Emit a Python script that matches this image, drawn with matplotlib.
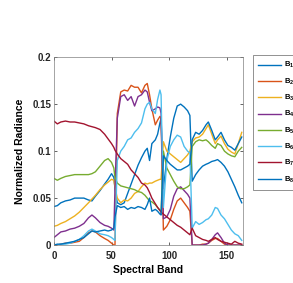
import matplotlib
matplotlib.use("Agg")
import matplotlib.pyplot as plt

plt.rcParams['font.family'] = ['Liberation Sans', 'DejaVu Sans']
plt.rcParams['font.weight'] = 'bold'
plt.rcParams['mathtext.fontset'] = 'custom'
plt.rcParams['mathtext.rm'] = 'Liberation Sans:bold'
plt.rcParams['mathtext.bf'] = 'Liberation Sans:bold'
plt.rcParams['mathtext.it'] = 'Liberation Sans:bold'

bands = [0, 3, 6, 10, 14, 18, 22, 26, 30, 33, 36, 40, 44, 47, 50, 52, 53, 55, 58, 61,
         64, 67, 70, 73, 76, 79, 81, 83, 85, 88, 90, 92, 93, 95, 98, 101, 104, 107, 110, 113,
         116, 118, 120, 123, 126, 129, 132, 134, 137, 140, 142, 145, 148, 151, 154, 157, 160, 163]

b1 = [0.041, 0.042, 0.045, 0.047, 0.048, 0.050, 0.050, 0.050, 0.048, 0.047, 0.052, 0.058, 0.065, 0.070, 0.076, 0.072, 0.060, 0.045, 0.043, 0.045,
      0.055, 0.065, 0.075, 0.085, 0.093, 0.100, 0.103, 0.090, 0.108, 0.112, 0.118, 0.130, 0.135, 0.060, 0.092, 0.115, 0.135, 0.148, 0.150, 0.147,
      0.143, 0.138, 0.068, 0.075, 0.080, 0.084, 0.086, 0.087, 0.089, 0.090, 0.091, 0.088, 0.084, 0.078, 0.070, 0.062, 0.053, 0.045]
b2 = [0.000, 0.000, 0.001, 0.002, 0.002, 0.003, 0.004, 0.008, 0.013, 0.015, 0.014, 0.010, 0.007, 0.005, 0.002, 0.000, 0.000, 0.140, 0.163, 0.165,
      0.164, 0.170, 0.168, 0.168, 0.162, 0.170, 0.172, 0.160, 0.145, 0.128, 0.133, 0.137, 0.135, 0.016, 0.020, 0.027, 0.038, 0.047, 0.050, 0.045,
      0.040, 0.036, 0.000, 0.000, 0.000, 0.001, 0.001, 0.002, 0.005, 0.007, 0.007, 0.004, 0.001, 0.000, 0.000, 0.000, 0.000, 0.000]
b3 = [0.020, 0.021, 0.023, 0.025, 0.028, 0.031, 0.035, 0.040, 0.045, 0.049, 0.053, 0.059, 0.064, 0.067, 0.070, 0.069, 0.062, 0.050, 0.045, 0.048,
      0.047, 0.050, 0.055, 0.057, 0.062, 0.066, 0.065, 0.066, 0.066, 0.068, 0.069, 0.070, 0.070, 0.110, 0.100, 0.097, 0.094, 0.091, 0.088, 0.092,
      0.096, 0.100, 0.110, 0.114, 0.115, 0.118, 0.124, 0.128, 0.118, 0.108, 0.112, 0.116, 0.108, 0.102, 0.099, 0.097, 0.108, 0.120]
b4 = [0.008, 0.011, 0.014, 0.015, 0.017, 0.018, 0.020, 0.023, 0.029, 0.032, 0.029, 0.024, 0.021, 0.020, 0.018, 0.016, 0.060, 0.135, 0.158, 0.160,
      0.154, 0.158, 0.148, 0.158, 0.160, 0.165, 0.163, 0.152, 0.143, 0.145, 0.147, 0.146, 0.140, 0.028, 0.030, 0.038, 0.052, 0.060, 0.062, 0.058,
      0.054, 0.050, 0.000, 0.000, 0.000, 0.000, 0.001, 0.002, 0.006, 0.011, 0.013, 0.008, 0.002, 0.000, 0.000, 0.000, 0.000, 0.000]
b5 = [0.071, 0.069, 0.071, 0.073, 0.074, 0.075, 0.075, 0.075, 0.075, 0.076, 0.078, 0.084, 0.090, 0.092, 0.088, 0.082, 0.072, 0.066, 0.063, 0.062,
      0.061, 0.060, 0.059, 0.057, 0.056, 0.053, 0.050, 0.047, 0.046, 0.043, 0.040, 0.037, 0.035, 0.100, 0.082, 0.075, 0.068, 0.062, 0.060, 0.060,
      0.062, 0.064, 0.105, 0.110, 0.112, 0.111, 0.112, 0.110, 0.106, 0.103, 0.108, 0.106, 0.100, 0.097, 0.095, 0.094, 0.100, 0.104]
b6 = [0.000, 0.000, 0.001, 0.001, 0.002, 0.004, 0.006, 0.010, 0.015, 0.017, 0.015, 0.012, 0.011, 0.010, 0.008, 0.006, 0.005, 0.090, 0.100, 0.105,
      0.112, 0.114, 0.120, 0.124, 0.130, 0.145, 0.150, 0.152, 0.145, 0.140, 0.155, 0.165, 0.160, 0.040, 0.090, 0.105, 0.112, 0.117, 0.115, 0.105,
      0.100, 0.098, 0.018, 0.025, 0.022, 0.024, 0.027, 0.028, 0.032, 0.040, 0.039, 0.032, 0.028, 0.022, 0.016, 0.012, 0.010, 0.005]
b7 = [0.132, 0.129, 0.131, 0.132, 0.131, 0.131, 0.130, 0.129, 0.127, 0.126, 0.125, 0.123, 0.118, 0.113, 0.108, 0.104, 0.101, 0.097, 0.092, 0.089,
      0.086, 0.080, 0.076, 0.072, 0.066, 0.064, 0.061, 0.056, 0.050, 0.044, 0.040, 0.037, 0.035, 0.033, 0.030, 0.027, 0.024, 0.021, 0.019, 0.016,
      0.013, 0.011, 0.018, 0.010, 0.008, 0.006, 0.005, 0.004, 0.006, 0.008, 0.006, 0.004, 0.003, 0.002, 0.001, 0.004, 0.002, 0.001]
b8 = [0.000, 0.001, 0.001, 0.002, 0.003, 0.004, 0.006, 0.008, 0.012, 0.015, 0.014, 0.015, 0.016, 0.015, 0.016, 0.018, 0.030, 0.042, 0.040, 0.041,
      0.038, 0.040, 0.039, 0.041, 0.040, 0.038, 0.043, 0.050, 0.036, 0.038, 0.036, 0.033, 0.032, 0.095, 0.090, 0.086, 0.083, 0.080, 0.080, 0.082,
      0.084, 0.086, 0.112, 0.120, 0.118, 0.122, 0.128, 0.131, 0.122, 0.112, 0.115, 0.120, 0.112, 0.106, 0.104, 0.101, 0.108, 0.115]

series = [b1, b2, b3, b4, b5, b6, b7, b8]
labels = [r'$\mathbf{B_%d}$' % (i + 1) for i in range(8)]
colors = ['#0072BD', '#D95319', '#EDB120', '#7E2F8E', '#77AC30', '#4DBEEE', '#A2142F', '#0072BD']

fig = plt.figure(figsize=(2.93, 2.83), dpi=100)
ax = fig.add_axes([0.184, 0.134, 0.645, 0.664])

for y, c, lab in zip(series, colors, labels):
    ax.plot(bands, y, color=c, lw=1.0, label=lab)

ax.set_xlim(0, 164)
ax.set_ylim(0, 0.2)
ax.set_xticks([0, 50, 100, 150])
ax.set_yticks([0, 0.05, 0.1, 0.15, 0.2])
ax.set_yticklabels(['0', '0.05', '0.1', '0.15', '0.2'])
ax.tick_params(direction='in', length=2, width=0.5, top=True, right=True,
               labelsize=7, colors='#262626', pad=2)
ax.tick_params(axis='x', pad=4)
for s in ax.spines.values():
    s.set_linewidth(0.5)
    s.set_color('#808080')
for t in ax.get_xticklabels() + ax.get_yticklabels():
    t.set_fontweight('bold')

ax.set_xlabel('Spectral Band', fontsize=7.5, fontweight='bold', labelpad=3)
ax.set_ylabel('Normalized Radiance', fontsize=7.5, fontweight='bold', labelpad=5)

leg = ax.legend(loc='upper left', bbox_to_anchor=(0.864, 0.806),
                bbox_transform=fig.transFigure, fontsize=5.5, frameon=True,
                fancybox=False, handlelength=3.0, handletextpad=0.3,
                labelspacing=0.8, borderpad=0.7, borderaxespad=0)
leg.get_frame().set_edgecolor('#404040')
leg.get_frame().set_linewidth(0.5)

fig.savefig('out.png', dpi=100)
